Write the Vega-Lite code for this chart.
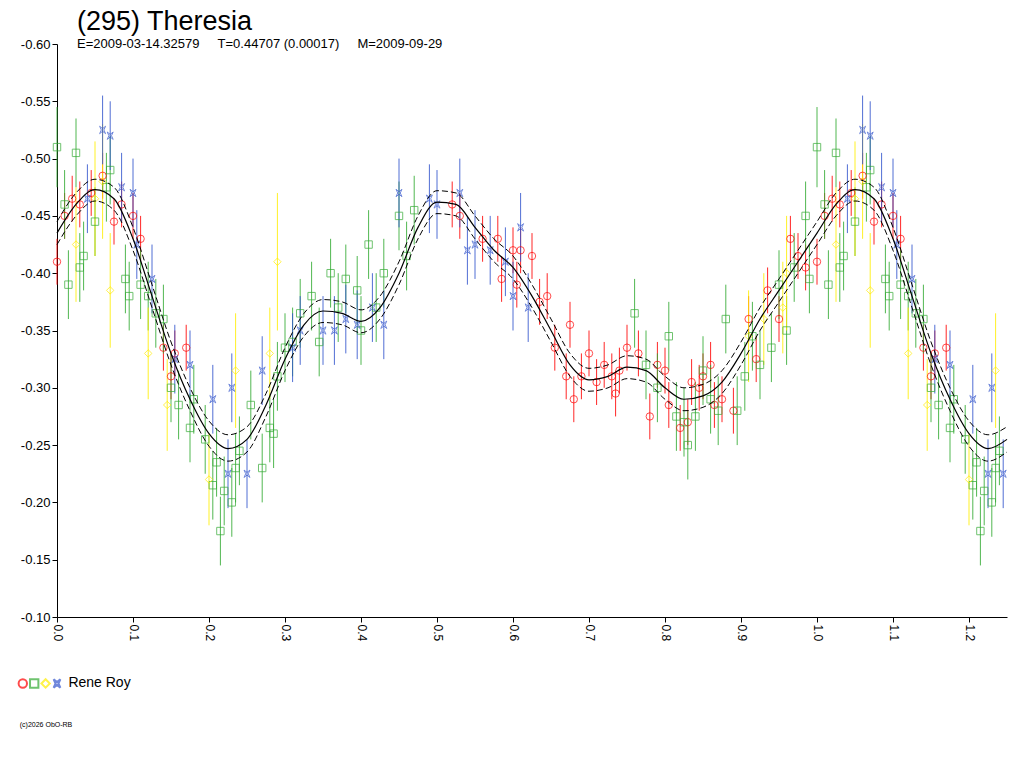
{
"$schema":"https://vega.github.io/schema/vega-lite/v6.json",
"width":950,"height":573,
"autosize":"none",
"padding":{"left":57,"top":44,"right":17,"bottom":151},
"background":"white",
"config":{"font":"Liberation Sans","view":{"stroke":null}},
"title":{"text":"(295) Theresia","subtitle":"E=2009-03-14.32579\u00a0\u00a0\u00a0\u00a0\u00a0T=0.44707 (0.00017)\u00a0\u00a0\u00a0\u00a0\u00a0M=2009-09-29","anchor":"start","frame":"group","dx":20,"offset":-14,"fontSize":27,"fontWeight":"normal","subtitleFontSize":13,"subtitlePadding":2,"color":"black","subtitleColor":"black"},
"datasets":{
"obs":[
{"s":"r","p":0.0,"m":-0.41,"e":0.02},{"s":"r","p":0.01,"m":-0.45,"e":0.02},{"s":"r","p":0.02,"m":-0.465,"e":0.02},{"s":"r","p":0.03,"m":-0.46,"e":0.02},{"s":"r","p":0.045,"m":-0.47,"e":0.02},{"s":"r","p":0.06,"m":-0.485,"e":0.02},{"s":"r","p":0.075,"m":-0.445,"e":0.02},{"s":"r","p":0.085,"m":-0.46,"e":0.02},{"s":"r","p":0.1,"m":-0.45,"e":0.02},{"s":"r","p":0.11,"m":-0.43,"e":0.02},{"s":"r","p":0.14,"m":-0.335,"e":0.02},{"s":"r","p":0.15,"m":-0.31,"e":0.02},{"s":"r","p":0.155,"m":-0.33,"e":0.02},{"s":"r","p":0.17,"m":-0.335,"e":0.02},
{"s":"r","p":0.52,"m":-0.46,"e":0.02},{"s":"r","p":0.53,"m":-0.45,"e":0.02},{"s":"r","p":0.56,"m":-0.43,"e":0.02},{"s":"r","p":0.58,"m":-0.43,"e":0.02},{"s":"r","p":0.585,"m":-0.395,"e":0.02},{"s":"r","p":0.6,"m":-0.42,"e":0.02},{"s":"r","p":0.605,"m":-0.39,"e":0.02},{"s":"r","p":0.61,"m":-0.42,"e":0.02},{"s":"r","p":0.625,"m":-0.415,"e":0.02},{"s":"r","p":0.635,"m":-0.375,"e":0.02},{"s":"r","p":0.645,"m":-0.38,"e":0.02},{"s":"r","p":0.655,"m":-0.335,"e":0.02},{"s":"r","p":0.67,"m":-0.31,"e":0.02},{"s":"r","p":0.675,"m":-0.355,"e":0.02},{"s":"r","p":0.68,"m":-0.29,"e":0.02},{"s":"r","p":0.69,"m":-0.31,"e":0.02},{"s":"r","p":0.7,"m":-0.33,"e":0.02},{"s":"r","p":0.71,"m":-0.305,"e":0.02},{"s":"r","p":0.72,"m":-0.32,"e":0.02},{"s":"r","p":0.73,"m":-0.31,"e":0.02},{"s":"r","p":0.735,"m":-0.295,"e":0.02},{"s":"r","p":0.74,"m":-0.315,"e":0.02},{"s":"r","p":0.75,"m":-0.335,"e":0.02},{"s":"r","p":0.765,"m":-0.33,"e":0.02},{"s":"r","p":0.78,"m":-0.275,"e":0.02},{"s":"r","p":0.79,"m":-0.32,"e":0.02},{"s":"r","p":0.8,"m":-0.315,"e":0.02},{"s":"r","p":0.805,"m":-0.285,"e":0.02},{"s":"r","p":0.82,"m":-0.265,"e":0.02},{"s":"r","p":0.83,"m":-0.27,"e":0.02},{"s":"r","p":0.835,"m":-0.305,"e":0.02},{"s":"r","p":0.845,"m":-0.3,"e":0.02},{"s":"r","p":0.85,"m":-0.31,"e":0.02},{"s":"r","p":0.86,"m":-0.32,"e":0.02},{"s":"r","p":0.865,"m":-0.285,"e":0.02},{"s":"r","p":0.875,"m":-0.29,"e":0.02},{"s":"r","p":0.89,"m":-0.28,"e":0.02},{"s":"r","p":0.91,"m":-0.36,"e":0.02},{"s":"r","p":0.92,"m":-0.325,"e":0.02},{"s":"r","p":0.935,"m":-0.385,"e":0.02},{"s":"r","p":0.95,"m":-0.36,"e":0.02},{"s":"r","p":0.965,"m":-0.43,"e":0.02},{"s":"r","p":0.975,"m":-0.415,"e":0.02},{"s":"r","p":0.985,"m":-0.405,"e":0.02},
{"s":"r","p":1.0,"m":-0.41,"e":0.02},{"s":"r","p":1.01,"m":-0.45,"e":0.02},{"s":"r","p":1.02,"m":-0.465,"e":0.02},{"s":"r","p":1.03,"m":-0.46,"e":0.02},{"s":"r","p":1.045,"m":-0.47,"e":0.02},{"s":"r","p":1.06,"m":-0.485,"e":0.02},{"s":"r","p":1.075,"m":-0.445,"e":0.02},{"s":"r","p":1.085,"m":-0.46,"e":0.02},{"s":"r","p":1.1,"m":-0.45,"e":0.02},{"s":"r","p":1.11,"m":-0.43,"e":0.02},{"s":"r","p":1.14,"m":-0.335,"e":0.02},{"s":"r","p":1.15,"m":-0.31,"e":0.02},{"s":"r","p":1.155,"m":-0.33,"e":0.02},{"s":"r","p":1.17,"m":-0.335,"e":0.02},
{"s":"g","p":0.0,"m":-0.51,"e":0.035},{"s":"g","p":0.01,"m":-0.46,"e":0.03},{"s":"g","p":0.015,"m":-0.39,"e":0.03},{"s":"g","p":0.025,"m":-0.505,"e":0.03},{"s":"g","p":0.03,"m":-0.405,"e":0.03},{"s":"g","p":0.035,"m":-0.415,"e":0.03},{"s":"g","p":0.05,"m":-0.445,"e":0.03},{"s":"g","p":0.065,"m":-0.475,"e":0.03},{"s":"g","p":0.07,"m":-0.49,"e":0.03},{"s":"g","p":0.09,"m":-0.395,"e":0.03},{"s":"g","p":0.095,"m":-0.38,"e":0.03},{"s":"g","p":0.11,"m":-0.39,"e":0.03},{"s":"g","p":0.12,"m":-0.38,"e":0.03},{"s":"g","p":0.13,"m":-0.365,"e":0.03},{"s":"g","p":0.14,"m":-0.36,"e":0.03},{"s":"g","p":0.15,"m":-0.3,"e":0.03},{"s":"g","p":0.16,"m":-0.285,"e":0.03},{"s":"g","p":0.175,"m":-0.265,"e":0.03},{"s":"g","p":0.18,"m":-0.29,"e":0.03},{"s":"g","p":0.195,"m":-0.255,"e":0.03},{"s":"g","p":0.205,"m":-0.215,"e":0.03},{"s":"g","p":0.21,"m":-0.235,"e":0.03},{"s":"g","p":0.215,"m":-0.175,"e":0.03},{"s":"g","p":0.22,"m":-0.21,"e":0.03},{"s":"g","p":0.23,"m":-0.2,"e":0.03},{"s":"g","p":0.235,"m":-0.23,"e":0.03},{"s":"g","p":0.24,"m":-0.245,"e":0.03},{"s":"g","p":0.255,"m":-0.285,"e":0.03},{"s":"g","p":0.27,"m":-0.23,"e":0.03},{"s":"g","p":0.28,"m":-0.265,"e":0.03},{"s":"g","p":0.285,"m":-0.26,"e":0.03},{"s":"g","p":0.29,"m":-0.31,"e":0.03},{"s":"g","p":0.3,"m":-0.335,"e":0.03},{"s":"g","p":0.31,"m":-0.34,"e":0.03},{"s":"g","p":0.32,"m":-0.365,"e":0.03},{"s":"g","p":0.335,"m":-0.38,"e":0.03},{"s":"g","p":0.345,"m":-0.34,"e":0.03},{"s":"g","p":0.36,"m":-0.4,"e":0.03},{"s":"g","p":0.37,"m":-0.37,"e":0.03},{"s":"g","p":0.38,"m":-0.395,"e":0.03},{"s":"g","p":0.395,"m":-0.385,"e":0.03},{"s":"g","p":0.4,"m":-0.35,"e":0.03},{"s":"g","p":0.41,"m":-0.425,"e":0.03},{"s":"g","p":0.42,"m":-0.37,"e":0.03},{"s":"g","p":0.43,"m":-0.4,"e":0.03},{"s":"g","p":0.45,"m":-0.45,"e":0.03},{"s":"g","p":0.46,"m":-0.415,"e":0.03},{"s":"g","p":0.47,"m":-0.455,"e":0.03},{"s":"g","p":0.76,"m":-0.365,"e":0.03},{"s":"g","p":0.775,"m":-0.32,"e":0.03},{"s":"g","p":0.79,"m":-0.3,"e":0.03},{"s":"g","p":0.805,"m":-0.345,"e":0.03},{"s":"g","p":0.815,"m":-0.275,"e":0.03},{"s":"g","p":0.825,"m":-0.27,"e":0.03},{"s":"g","p":0.83,"m":-0.25,"e":0.03},{"s":"g","p":0.84,"m":-0.275,"e":0.03},{"s":"g","p":0.85,"m":-0.315,"e":0.03},{"s":"g","p":0.86,"m":-0.29,"e":0.03},{"s":"g","p":0.87,"m":-0.28,"e":0.03},{"s":"g","p":0.88,"m":-0.36,"e":0.03},{"s":"g","p":0.895,"m":-0.28,"e":0.03},{"s":"g","p":0.905,"m":-0.31,"e":0.03},{"s":"g","p":0.915,"m":-0.345,"e":0.03},{"s":"g","p":0.925,"m":-0.32,"e":0.03},{"s":"g","p":0.94,"m":-0.335,"e":0.03},{"s":"g","p":0.95,"m":-0.39,"e":0.03},{"s":"g","p":0.96,"m":-0.35,"e":0.03},{"s":"g","p":0.97,"m":-0.405,"e":0.03},{"s":"g","p":0.985,"m":-0.45,"e":0.03},{"s":"g","p":0.99,"m":-0.395,"e":0.03},
{"s":"g","p":1.0,"m":-0.51,"e":0.035},{"s":"g","p":1.01,"m":-0.46,"e":0.03},{"s":"g","p":1.015,"m":-0.39,"e":0.03},{"s":"g","p":1.025,"m":-0.505,"e":0.03},{"s":"g","p":1.03,"m":-0.405,"e":0.03},{"s":"g","p":1.035,"m":-0.415,"e":0.03},{"s":"g","p":1.05,"m":-0.445,"e":0.03},{"s":"g","p":1.065,"m":-0.475,"e":0.03},{"s":"g","p":1.07,"m":-0.49,"e":0.03},{"s":"g","p":1.09,"m":-0.395,"e":0.03},{"s":"g","p":1.095,"m":-0.38,"e":0.03},{"s":"g","p":1.11,"m":-0.39,"e":0.03},{"s":"g","p":1.12,"m":-0.38,"e":0.03},{"s":"g","p":1.13,"m":-0.365,"e":0.03},{"s":"g","p":1.14,"m":-0.36,"e":0.03},{"s":"g","p":1.15,"m":-0.3,"e":0.03},{"s":"g","p":1.16,"m":-0.285,"e":0.03},{"s":"g","p":1.175,"m":-0.265,"e":0.03},{"s":"g","p":1.18,"m":-0.29,"e":0.03},{"s":"g","p":1.195,"m":-0.255,"e":0.03},{"s":"g","p":1.205,"m":-0.215,"e":0.03},{"s":"g","p":1.21,"m":-0.235,"e":0.03},{"s":"g","p":1.215,"m":-0.175,"e":0.03},{"s":"g","p":1.22,"m":-0.21,"e":0.03},{"s":"g","p":1.23,"m":-0.2,"e":0.03},{"s":"g","p":1.235,"m":-0.23,"e":0.03},{"s":"g","p":1.24,"m":-0.245,"e":0.03},
{"s":"y","p":0.025,"m":-0.425,"e":0.05},{"s":"y","p":0.05,"m":-0.465,"e":0.05},{"s":"y","p":0.06,"m":-0.48,"e":0.05},{"s":"y","p":0.07,"m":-0.385,"e":0.05},{"s":"y","p":0.12,"m":-0.33,"e":0.04},{"s":"y","p":0.145,"m":-0.285,"e":0.04},{"s":"y","p":0.2,"m":-0.22,"e":0.04},{"s":"y","p":0.235,"m":-0.315,"e":0.05},{"s":"y","p":0.28,"m":-0.33,"e":0.04},{"s":"y","p":0.29,"m":-0.41,"e":0.06},{"s":"y","p":0.91,"m":-0.345,"e":0.04},{"s":"y","p":0.93,"m":-0.36,"e":0.04},{"s":"y","p":0.955,"m":-0.37,"e":0.04},{"s":"y","p":0.96,"m":-0.4,"e":0.05},
{"s":"y","p":1.025,"m":-0.425,"e":0.05},{"s":"y","p":1.05,"m":-0.465,"e":0.05},{"s":"y","p":1.06,"m":-0.48,"e":0.05},{"s":"y","p":1.07,"m":-0.385,"e":0.05},{"s":"y","p":1.12,"m":-0.33,"e":0.04},{"s":"y","p":1.145,"m":-0.285,"e":0.04},{"s":"y","p":1.2,"m":-0.22,"e":0.04},{"s":"y","p":1.235,"m":-0.315,"e":0.05},
{"s":"b","p":0.04,"m":-0.465,"e":0.03},{"s":"b","p":0.06,"m":-0.525,"e":0.03},{"s":"b","p":0.07,"m":-0.52,"e":0.03},{"s":"b","p":0.085,"m":-0.475,"e":0.03},{"s":"b","p":0.1,"m":-0.47,"e":0.03},{"s":"b","p":0.105,"m":-0.425,"e":0.03},{"s":"b","p":0.125,"m":-0.395,"e":0.03},{"s":"b","p":0.155,"m":-0.325,"e":0.03},{"s":"b","p":0.175,"m":-0.32,"e":0.03},{"s":"b","p":0.205,"m":-0.29,"e":0.03},{"s":"b","p":0.225,"m":-0.225,"e":0.03},{"s":"b","p":0.23,"m":-0.3,"e":0.03},{"s":"b","p":0.25,"m":-0.225,"e":0.03},{"s":"b","p":0.27,"m":-0.315,"e":0.03},{"s":"b","p":0.31,"m":-0.335,"e":0.03},{"s":"b","p":0.32,"m":-0.35,"e":0.03},{"s":"b","p":0.35,"m":-0.35,"e":0.03},{"s":"b","p":0.365,"m":-0.35,"e":0.03},{"s":"b","p":0.38,"m":-0.36,"e":0.03},{"s":"b","p":0.395,"m":-0.355,"e":0.03},{"s":"b","p":0.415,"m":-0.37,"e":0.03},{"s":"b","p":0.43,"m":-0.355,"e":0.03},{"s":"b","p":0.45,"m":-0.47,"e":0.03},{"s":"b","p":0.49,"m":-0.465,"e":0.03},{"s":"b","p":0.5,"m":-0.46,"e":0.03},{"s":"b","p":0.53,"m":-0.47,"e":0.03},{"s":"b","p":0.54,"m":-0.42,"e":0.03},{"s":"b","p":0.55,"m":-0.425,"e":0.03},{"s":"b","p":0.57,"m":-0.42,"e":0.03},{"s":"b","p":0.59,"m":-0.41,"e":0.03},{"s":"b","p":0.6,"m":-0.38,"e":0.03},{"s":"b","p":0.61,"m":-0.44,"e":0.03},{"s":"b","p":0.62,"m":-0.37,"e":0.03},
{"s":"b","p":1.04,"m":-0.465,"e":0.03},{"s":"b","p":1.06,"m":-0.525,"e":0.03},{"s":"b","p":1.07,"m":-0.52,"e":0.03},{"s":"b","p":1.085,"m":-0.475,"e":0.03},{"s":"b","p":1.1,"m":-0.47,"e":0.03},{"s":"b","p":1.105,"m":-0.425,"e":0.03},{"s":"b","p":1.125,"m":-0.395,"e":0.03},{"s":"b","p":1.155,"m":-0.325,"e":0.03},{"s":"b","p":1.175,"m":-0.32,"e":0.03},{"s":"b","p":1.205,"m":-0.29,"e":0.03},{"s":"b","p":1.225,"m":-0.225,"e":0.03},{"s":"b","p":1.23,"m":-0.3,"e":0.03},{"s":"b","p":1.245,"m":-0.225,"e":0.03}
],
"fit":[
{"p":0,"m":-0.435,"u":-0.445,"l":-0.425},{"p":0.025,"m":-0.46,"u":-0.47,"l":-0.45},{"p":0.05,"m":-0.473,"u":-0.482,"l":-0.463},{"p":0.075,"m":-0.465,"u":-0.475,"l":-0.455},{"p":0.1,"m":-0.43,"u":-0.44,"l":-0.42},{"p":0.125,"m":-0.38,"u":-0.39,"l":-0.37},{"p":0.15,"m":-0.33,"u":-0.34,"l":-0.32},{"p":0.175,"m":-0.29,"u":-0.3,"l":-0.28},{"p":0.2,"m":-0.26,"u":-0.271,"l":-0.249},{"p":0.225,"m":-0.247,"u":-0.259,"l":-0.236},{"p":0.25,"m":-0.255,"u":-0.266,"l":-0.244},{"p":0.275,"m":-0.285,"u":-0.295,"l":-0.275},{"p":0.3,"m":-0.325,"u":-0.335,"l":-0.315},{"p":0.325,"m":-0.355,"u":-0.365,"l":-0.345},{"p":0.35,"m":-0.367,"u":-0.377,"l":-0.357},{"p":0.375,"m":-0.365,"u":-0.375,"l":-0.355},{"p":0.4,"m":-0.358,"u":-0.368,"l":-0.348},{"p":0.425,"m":-0.37,"u":-0.38,"l":-0.36},{"p":0.45,"m":-0.4,"u":-0.41,"l":-0.39},{"p":0.475,"m":-0.44,"u":-0.45,"l":-0.43},{"p":0.5,"m":-0.462,"u":-0.472,"l":-0.452},{"p":0.525,"m":-0.46,"u":-0.47,"l":-0.45},{"p":0.55,"m":-0.44,"u":-0.45,"l":-0.43},{"p":0.575,"m":-0.42,"u":-0.43,"l":-0.41},{"p":0.6,"m":-0.405,"u":-0.415,"l":-0.395},{"p":0.625,"m":-0.38,"u":-0.39,"l":-0.37},{"p":0.65,"m":-0.35,"u":-0.36,"l":-0.34},{"p":0.675,"m":-0.32,"u":-0.33,"l":-0.31},{"p":0.7,"m":-0.307,"u":-0.317,"l":-0.297},{"p":0.725,"m":-0.31,"u":-0.32,"l":-0.3},{"p":0.75,"m":-0.318,"u":-0.328,"l":-0.308},{"p":0.775,"m":-0.315,"u":-0.325,"l":-0.305},{"p":0.8,"m":-0.3,"u":-0.31,"l":-0.29},{"p":0.825,"m":-0.29,"u":-0.3,"l":-0.28},{"p":0.85,"m":-0.293,"u":-0.303,"l":-0.283},{"p":0.875,"m":-0.305,"u":-0.315,"l":-0.295},{"p":0.9,"m":-0.33,"u":-0.34,"l":-0.32},{"p":0.925,"m":-0.36,"u":-0.37,"l":-0.35},{"p":0.95,"m":-0.385,"u":-0.395,"l":-0.375},{"p":0.975,"m":-0.41,"u":-0.42,"l":-0.4},{"p":1.0,"m":-0.435,"u":-0.445,"l":-0.425},{"p":1.025,"m":-0.46,"u":-0.47,"l":-0.45},{"p":1.05,"m":-0.473,"u":-0.482,"l":-0.463},{"p":1.075,"m":-0.465,"u":-0.475,"l":-0.455},{"p":1.1,"m":-0.43,"u":-0.44,"l":-0.42},{"p":1.125,"m":-0.38,"u":-0.39,"l":-0.37},{"p":1.15,"m":-0.33,"u":-0.34,"l":-0.32},{"p":1.175,"m":-0.29,"u":-0.3,"l":-0.28},{"p":1.2,"m":-0.26,"u":-0.271,"l":-0.249},{"p":1.225,"m":-0.247,"u":-0.259,"l":-0.236},{"p":1.25,"m":-0.255,"u":-0.266,"l":-0.244}
],
"leg":[{"s":"r","p":-0.045,"m":-0.042},{"s":"g","p":-0.03,"m":-0.042},{"s":"y","p":-0.015,"m":-0.042},{"s":"b","p":0.0,"m":-0.042}]
},
"layer":[
{"data":{"name":"obs"},"mark":{"type":"errorbar","opacity":0.85},
 "encoding":{"x":{"field":"p","type":"quantitative"},"y":{"field":"m","type":"quantitative"},"yError":{"field":"e"},"color":{"field":"s","type":"nominal","scale":{"domain":["r","g","y","b"],"range":["#ff0000","#33aa33","#ffee00","#3355cc"]},"legend":null}}},
{"data":{"name":"obs"},"mark":{"type":"point","filled":false,"size":55,"strokeWidth":1},
 "encoding":{"x":{"field":"p","type":"quantitative","scale":{"domain":[0,1.25],"nice":false,"zero":false},
   "axis":{"title":null,"values":[0,0.1,0.2,0.3,0.4,0.5,0.6,0.7,0.8,0.9,1.0,1.1,1.2],"format":".1f","labelAngle":90,"labelAlign":"left","labelBaseline":"middle","labelFontSize":12,"labelColor":"black","domainColor":"black","tickColor":"black","grid":false}},
  "y":{"field":"m","type":"quantitative","scale":{"domain":[-0.6,-0.1],"nice":false,"zero":false,"reverse":true},
   "axis":{"title":null,"values":[-0.6,-0.55,-0.5,-0.45,-0.4,-0.35,-0.3,-0.25,-0.2,-0.15,-0.1],"format":".2f","labelExpr":"replace(datum.label,'\u2212','-')","labelFontSize":13,"labelColor":"black","domainColor":"black","tickColor":"black","grid":false}},
  "color":{"field":"s","type":"nominal","legend":null},
  "shape":{"field":"s","type":"nominal","scale":{"domain":["r","g","y","b"],"range":["circle","square","diamond","M-0.8,-1L0,-0.35L0.8,-1L0.35,0L0.8,1L0,0.35L-0.8,1L-0.35,0Z"]},"legend":null}}},
{"data":{"name":"fit"},"mark":{"type":"line","color":"black","strokeWidth":1.2,"interpolate":"monotone"},"encoding":{"x":{"field":"p","type":"quantitative"},"y":{"field":"m","type":"quantitative"}}},
{"data":{"name":"fit"},"mark":{"type":"line","color":"black","strokeWidth":1,"strokeDash":[6,3],"interpolate":"monotone"},"encoding":{"x":{"field":"p","type":"quantitative"},"y":{"field":"u","type":"quantitative"}}},
{"data":{"name":"fit"},"mark":{"type":"line","color":"black","strokeWidth":1,"strokeDash":[6,3],"interpolate":"monotone"},"encoding":{"x":{"field":"p","type":"quantitative"},"y":{"field":"l","type":"quantitative"}}},
{"data":{"name":"leg"},"mark":{"type":"point","filled":false,"size":70},
 "encoding":{"x":{"field":"p","type":"quantitative"},"y":{"field":"m","type":"quantitative"},"color":{"field":"s","type":"nominal","legend":null},"shape":{"field":"s","type":"nominal","legend":null}}},
{"data":{"values":[{"p":0.015,"m":-0.042,"t":"Rene Roy"}]},"mark":{"type":"text","align":"left","baseline":"middle","fontSize":14,"color":"black"},
 "encoding":{"x":{"field":"p","type":"quantitative"},"y":{"field":"m","type":"quantitative"},"text":{"field":"t"}}},
{"data":{"values":[{"p":-0.049,"m":-0.006,"t":"(c)2026 ObO-RB"}]},"mark":{"type":"text","align":"left","baseline":"middle","fontSize":7,"color":"black"},
 "encoding":{"x":{"field":"p","type":"quantitative"},"y":{"field":"m","type":"quantitative"},"text":{"field":"t"}}}
]
}
